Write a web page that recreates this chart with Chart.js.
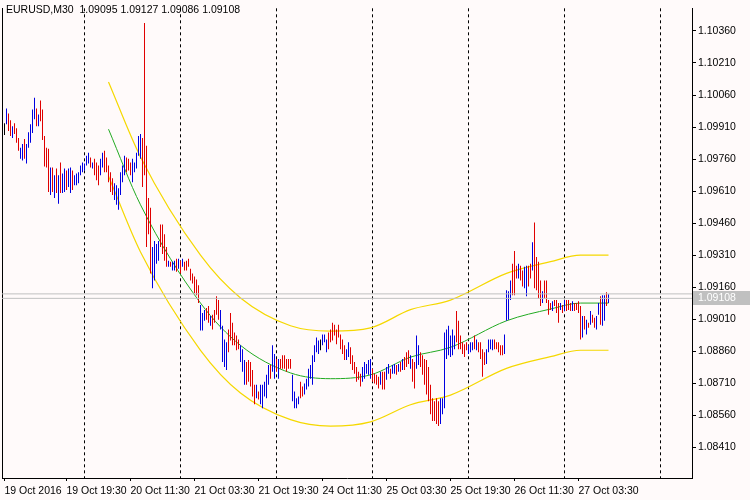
<!DOCTYPE html>
<html><head><meta charset="utf-8">
<script src="https://cdn.jsdelivr.net/npm/chart.js@4.4.0/dist/chart.umd.min.js"></script>
<style>html,body{margin:0;padding:0;background:#fffafa;}#wrap{width:750px;height:500px;}</style>
</head><body><div id="wrap"><canvas id="c" width="750" height="500"></canvas></div>
<script>
const symbolTitle = "EURUSD,M30  1.09095 1.09127 1.09086 1.09108";
const highs = [1.09928,1.09997,1.09974,1.09942,1.09914,1.09928,1.09905,1.09859,1.09813,1.09831,
1.09854,1.09831,1.09886,1.09923,1.09992,1.10047,1.09997,1.09969,1.10034,1.09992,
1.09868,1.09813,1.09808,1.09721,1.09721,1.09684,1.09716,1.09684,1.09744,1.09693,
1.09716,1.09707,1.09716,1.09721,1.09707,1.09684,1.09693,1.09698,1.09730,1.09744,
1.09739,1.09776,1.09790,1.09767,1.09744,1.09762,1.09744,1.09730,1.09762,1.09790,
1.09799,1.09767,1.09730,1.09698,1.09670,1.09647,1.09638,1.09624,1.09698,1.09730,
1.09776,1.09767,1.09762,1.09744,1.09762,1.09744,1.09790,1.09868,1.09877,1.09859,
1.10397,1.09822,1.09578,1.09532,1.09348,1.09376,1.09362,1.09376,1.09454,1.09454,
1.09408,1.09348,1.09284,1.09279,1.09279,1.09284,1.09293,1.09293,1.09284,1.09293,
1.09279,1.09284,1.09293,1.09247,1.09224,1.09210,1.09196,1.09169,1.09077,1.09040,
1.09054,1.09063,1.09072,1.09026,1.09031,1.09054,1.09118,1.09100,1.09054,1.08980,
1.08916,1.08902,1.08962,1.09040,1.08994,1.08948,1.08934,1.08916,1.08888,1.08870,
1.08819,1.08810,1.08819,1.08810,1.08773,1.08704,1.08704,1.08672,1.08704,1.08704,
1.08718,1.08750,1.08796,1.08796,1.08888,1.08847,1.08824,1.08824,1.08824,1.08842,
1.08842,1.08824,1.08824,1.08824,1.08750,1.08672,1.08640,1.08649,1.08718,1.08695,
1.08709,1.08732,1.08778,1.08796,1.08842,1.08888,1.08925,1.08911,1.08916,1.08939,
1.08939,1.08916,1.08948,1.08962,1.08994,1.08985,1.08962,1.08985,1.08939,1.08916,
1.08888,1.08870,1.08902,1.08879,1.08842,1.08810,1.08787,1.08764,1.08755,1.08787,
1.08810,1.08801,1.08819,1.08824,1.08778,1.08755,1.08750,1.08741,1.08764,1.08764,
1.08764,1.08787,1.08801,1.08778,1.08796,1.08801,1.08796,1.08801,1.08810,1.08824,
1.08833,1.08856,1.08865,1.08842,1.08824,1.08810,1.08934,1.08888,1.08856,1.08842,
1.08824,1.08819,1.08787,1.08704,1.08640,1.08626,1.08640,1.08626,1.08640,1.08640,
1.08948,1.08962,1.08980,1.08934,1.08962,1.08934,1.09049,1.09003,1.08934,1.08902,
1.08893,1.08902,1.08888,1.08902,1.08902,1.08934,1.08916,1.08902,1.08902,1.08870,
1.08856,1.08870,1.08916,1.08916,1.08916,1.08916,1.08902,1.08902,1.08888,1.08888,
1.08939,1.09146,1.09141,1.09192,1.09270,1.09330,1.09261,1.09270,1.09261,1.09238,
1.09256,1.09261,1.09261,1.09270,1.09371,1.09463,1.09302,1.09279,1.09192,1.09141,
1.09192,1.09192,1.09100,1.09086,1.09095,1.09100,1.09100,1.09086,1.09086,1.09077,
1.09100,1.09100,1.09100,1.09086,1.09095,1.09086,1.09086,1.09095,1.09072,1.09026,
1.09026,1.09008,1.08994,1.09049,1.09031,1.09017,1.09026,1.09086,1.09118,1.09123,
1.09123,1.09137,1.09127];
const lows = [1.09873,1.09923,1.09891,1.09868,1.09859,1.09877,1.09836,1.09799,1.09762,1.09753,
1.09762,1.09739,1.09813,1.09836,1.09882,1.09946,1.09914,1.09914,1.09937,1.09850,
1.09725,1.09721,1.09606,1.09592,1.09606,1.09578,1.09601,1.09551,1.09601,1.09601,
1.09606,1.09615,1.09629,1.09601,1.09615,1.09638,1.09638,1.09647,1.09684,1.09698,
1.09707,1.09730,1.09739,1.09721,1.09716,1.09684,1.09661,1.09638,1.09684,1.09721,
1.09698,1.09698,1.09652,1.09606,1.09592,1.09569,1.09546,1.09523,1.09592,1.09652,
1.09684,1.09698,1.09707,1.09684,1.09652,1.09698,1.09716,1.09776,1.09762,1.09629,
1.09684,1.09348,1.09408,1.09224,1.09155,1.09192,1.09270,1.09284,1.09348,1.09316,
1.09284,1.09256,1.09256,1.09256,1.09238,1.09238,1.09233,1.09247,1.09224,1.09256,
1.09238,1.09238,1.09256,1.09192,1.09178,1.09132,1.09123,1.09086,1.08957,1.08957,
1.09003,1.09008,1.08994,1.08980,1.08962,1.08994,1.09031,1.09008,1.08962,1.08810,
1.08787,1.08773,1.08856,1.08911,1.08888,1.08888,1.08865,1.08870,1.08810,1.08764,
1.08704,1.08704,1.08718,1.08695,1.08649,1.08612,1.08640,1.08635,1.08612,1.08594,
1.08649,1.08640,1.08704,1.08732,1.08764,1.08732,1.08764,1.08732,1.08778,1.08778,
1.08778,1.08764,1.08778,1.08778,1.08626,1.08594,1.08594,1.08612,1.08640,1.08649,
1.08658,1.08681,1.08695,1.08732,1.08704,1.08810,1.08856,1.08847,1.08865,1.08888,
1.08902,1.08856,1.08870,1.08902,1.08911,1.08934,1.08893,1.08925,1.08870,1.08847,
1.08819,1.08819,1.08833,1.08801,1.08773,1.08755,1.08718,1.08727,1.08695,1.08718,
1.08732,1.08755,1.08750,1.08732,1.08718,1.08709,1.08704,1.08686,1.08704,1.08681,
1.08681,1.08727,1.08755,1.08732,1.08755,1.08755,1.08750,1.08764,1.08764,1.08773,
1.08773,1.08787,1.08801,1.08778,1.08718,1.08686,1.08778,1.08796,1.08787,1.08750,
1.08704,1.08658,1.08626,1.08566,1.08534,1.08534,1.08520,1.08511,1.08520,1.08566,
1.08594,1.08824,1.08842,1.08833,1.08842,1.08870,1.08902,1.08870,1.08870,1.08847,
1.08833,1.08865,1.08847,1.08856,1.08865,1.08870,1.08865,1.08856,1.08824,1.08741,
1.08796,1.08801,1.08856,1.08870,1.08865,1.08870,1.08870,1.08856,1.08842,1.08842,
1.08847,1.09003,1.09008,1.09100,1.09123,1.09123,1.09201,1.09201,1.09192,1.09164,
1.09155,1.09118,1.09164,1.09201,1.09238,1.09155,1.09146,1.09109,1.09072,1.09086,
1.09109,1.09086,1.09031,1.09054,1.09049,1.09072,1.09040,1.08994,1.09054,1.09040,
1.09049,1.09049,1.09054,1.09049,1.09049,1.09049,1.09054,1.09040,1.08916,1.08925,
1.08962,1.08939,1.08971,1.08985,1.08994,1.08971,1.08962,1.09031,1.08985,1.08980,
1.09003,1.09072,1.09086];
const directions = "EUDDUDDDUU"+"DUUUUUDUDD"+"DDDUDUDUDU"+"UDUUDUUUUU"+"UUUDUDDDUU"+
"DDDDDUUUUUUD"+"DDUUUUUDDDDDUUUUDDD"+"DUDUUDUDUD"+"DDDDDDDUUU"+"DDUDDDDUUU"+"UDDDDDDUUU"+
"DDDDDUDUUU"+"UUDUUDUDDD"+"DDDUUUUDDU"+"UUUUUUUEUU"+"UDDDDDDDDD"+"UUDDDDDDUU"+
"UUUDDDDUDD"+"UUDUUDUDUD"+"DDUDDUUDDD"+"DDDDDDDUUU"+"UUUUUDDDDD"+"DUUUDUDDDD"+
"UUUUDDDDDU"+"UUUDDDUDDU"+"UDDUDDDDUD"+"DDDUDDDUDU"+"DDDUDDDDUD"+"UDUDDUUDUU"+"DU";
const regIdx   = [52, 68, 98, 118, 143, 163, 183, 203, 223, 251, 273, 288, 302];
const regMid   = [1.09900,1.09546,1.09086,1.08888,1.08759,1.08732,1.08750,1.08833,1.08879,1.09003,1.09058,1.09086,1.09086];
const regUpper = [1.10121,1.09770,1.09310,1.09110,1.08980,1.08955,1.08970,1.09055,1.09100,1.09225,1.09280,1.09310,1.09310];
const regLower = [1.09680,1.09325,1.08865,1.08665,1.08540,1.08510,1.08530,1.08610,1.08655,1.08780,1.08835,1.08865,1.08865];
const yTicks = [1.08410,1.08560,1.08710,1.08860,1.09010,1.09160,1.09310,1.09460,1.09610,1.09760,1.09910,1.10060,1.10210,1.10360];
const xTickIdx = [0,31,63,95,127,159,191,223,255,287];
const xTickLabels = ["19 Oct 2016","19 Oct 19:30","20 Oct 11:30","21 Oct 03:30","21 Oct 19:30","24 Oct 11:30","25 Oct 03:30","25 Oct 19:30","26 Oct 11:30","27 Oct 03:30"];
const daySeparators = [40,88,136,184,232,280,328];
const bidPrice = 1.09108, askPrice = 1.09129;

const XMIN=-1.25, XMAX=343.75, YMIN=1.08267, YMAX=1.10466;
const colorOf = c => c==='U' ? '#0000e0' : (c==='D' ? '#e00000' : '#000000');
const FONT = {family:'Liberation Sans, Arial, sans-serif', size:10.5};

const decor = {
  id:'decor',
  afterDraw(chart){
    const ctx=chart.ctx, y=chart.scales.y;
    ctx.save();
    ctx.font='10.5px Liberation Sans, Arial, sans-serif';
    ctx.fillStyle='#000'; ctx.textBaseline='top'; ctx.textAlign='left';
    ctx.fillText(symbolTitle, 6, 5);
    const py=Math.round(y.getPixelForValue(bidPrice));
    ctx.fillStyle='#c0c0c0'; ctx.fillRect(693, py-7, 57, 14);
    ctx.fillStyle='#ffffff'; ctx.textBaseline='middle';
    ctx.fillText(bidPrice.toFixed(5), 698, py);
    ctx.restore();
  }
};

new Chart(document.getElementById('c'), {
  type:'bar',
  data:{datasets:[
    {type:'line', data:[{x:XMIN,y:bidPrice},{x:XMAX,y:bidPrice}], borderColor:'#c0c0c0', borderWidth:1, pointRadius:0, xAxisID:'x', yAxisID:'y'},
    {type:'line', data:[{x:XMIN,y:askPrice},{x:XMAX,y:askPrice}], borderColor:'#c0c0c0', borderWidth:1, pointRadius:0, xAxisID:'x', yAxisID:'y'},
    {type:'bar', data:highs.map((h,i)=>({x:i,y:[lows[i],h]})), backgroundColor:highs.map((h,i)=>colorOf(directions[i])), barThickness:1, inflateAmount:0, borderWidth:0, grouped:false, xAxisID:'x', yAxisID:'y'},
    {type:'line', data:regIdx.map((x,i)=>({x,y:regUpper[i]})), borderColor:'#f5d800', borderWidth:1.2, pointRadius:0, cubicInterpolationMode:'monotone', xAxisID:'x', yAxisID:'y'},
    {type:'line', data:regIdx.map((x,i)=>({x,y:regMid[i]})), borderColor:'#22aa22', borderWidth:1, pointRadius:0, cubicInterpolationMode:'monotone', xAxisID:'x', yAxisID:'y'},
    {type:'line', data:regIdx.map((x,i)=>({x,y:regLower[i]})), borderColor:'#f5d800', borderWidth:1.2, pointRadius:0, cubicInterpolationMode:'monotone', xAxisID:'x', yAxisID:'y'}
  ]},
  options:{
    responsive:false, animation:false, events:[],
    layout:{padding:{left:0,right:0,top:0,bottom:0}},
    plugins:{legend:{display:false}, tooltip:{enabled:false}},
    scales:{
      x:{type:'linear', min:XMIN, max:XMAX, position:'bottom', offset:false,
        afterBuildTicks:s=>{s.ticks=xTickIdx.map(v=>({value:v}));},
        afterFit:s=>{s.height=22;},
        ticks:{align:'start', maxRotation:0, autoSkip:false, color:'#000', font:FONT, padding:4,
          callback:(v)=>{const k=xTickIdx.indexOf(v); return k>=0?xTickLabels[k]:'';}},
        grid:{drawOnChartArea:false, drawTicks:true, tickLength:3, color:'#000', offset:false},
        border:{display:true, color:'#000', width:1}},
      xs:{type:'linear', min:XMIN, max:XMAX, position:'bottom', display:true, offset:false,
        afterBuildTicks:s=>{s.ticks=daySeparators.map(v=>({value:v}));},
        afterFit:s=>{s.height=0;},
        ticks:{display:false},
        grid:{drawOnChartArea:true, drawTicks:false, color:'#000', lineWidth:1, offset:false},
        border:{display:false, dash:[3,3]}},
      y:{type:'linear', position:'right', min:YMIN, max:YMAX,
        afterBuildTicks:s=>{s.ticks=yTicks.map(v=>({value:v}));},
        afterFit:s=>{s.width=58;},
        ticks:{color:'#000', font:FONT, padding:2, callback:v=>Number(v).toFixed(5)},
        grid:{drawOnChartArea:false, drawTicks:true, tickLength:4, color:'#000'},
        border:{display:true, color:'#000', width:1}},
      yl:{type:'linear', position:'left', min:YMIN, max:YMAX, display:true,
        afterFit:s=>{s.width=2;},
        ticks:{display:false}, grid:{display:false},
        border:{display:true, color:'#000', width:1}}
    }
  },
  plugins:[decor]
});
</script></body></html>
